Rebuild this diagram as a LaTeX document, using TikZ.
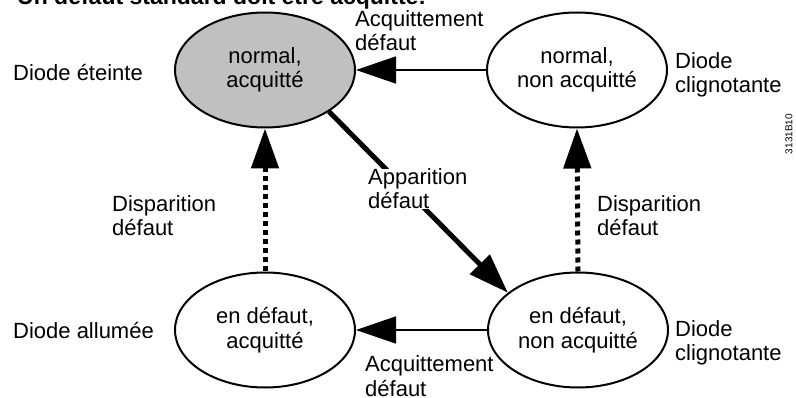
\documentclass[tikz,border=0pt]{standalone}
\usepackage{fontspec}
\setmainfont{Liberation Sans}
\usetikzlibrary{shapes.geometric,arrows.meta}
\begin{document}
\begin{tikzpicture}[x=1pt,y=-1pt,
  font=\fontsize{22}{24.5}\selectfont,
  state/.style={ellipse,draw,line width=2pt,minimum width=180pt,minimum height=115pt,inner sep=0pt,align=center},
  lbl/.style={anchor=base west,align=left,inner sep=0pt},
  tipend/.style={-{Triangle[length=40pt,width=27pt]}},
  ack/.style={tipend,line width=1.6pt},
  gone/.style={tipend,line width=5pt,dash pattern=on 5pt off 4pt},
  appear/.style={tipend,line width=5pt}
]
\useasboundingbox (0,0) rectangle (796,398);
\clip (0,0) rectangle (796,398);

\node[anchor=base west,inner sep=0pt,font=\fontsize{23}{26}\selectfont\bfseries] (title) at (17,5) {Un défaut standard doit être acquitté:};

\node[state,fill={rgb,255:red,192;green,192;blue,192}] (TL) at (265,70) {normal,\\acquitté};
\node[state] (TR) at (577,70) {normal,\\non acquitté};
\node[state] (BL) at (265,330) {en défaut,\\acquitté};
\node[state] (BR) at (578,330) {en défaut,\\non acquitté};

\draw[ack] (TR.west) -- (TL.east);
\draw[ack] (BR.west) -- (BL.east);
\draw[gone] (BL.north) -- (TL.south);
\draw[gone] (BR.north) -- (TR.south);
\draw[appear] (TL.-33) -- (BR.152);

\node[lbl] (ackT) at (355,51) {Acquittement\\défaut};
\node[lbl] (ackB) at (365,396) {Acquittement\\défaut};
\node[lbl] (disL) at (112,236) {Disparition\\défaut};
\node[lbl] (disR) at (597,236) {Disparition\\défaut};
\node[lbl,fill=white] (app) at (368,209) {Apparition\\défaut};

\node[lbl] (dTL) at (13,81) {Diode éteinte};
\node[lbl] (dBL) at (13,339) {Diode allumée};
\node[lbl] (dTR) at (675,93) {Diode\\clignotante};
\node[lbl] (dBR) at (675,361) {Diode\\clignotante};

\node[font=\fontsize{10}{12}\selectfont,rotate=90,inner sep=0pt] (ref) at (789,134) {3131B10};
\end{tikzpicture}
\end{document}
